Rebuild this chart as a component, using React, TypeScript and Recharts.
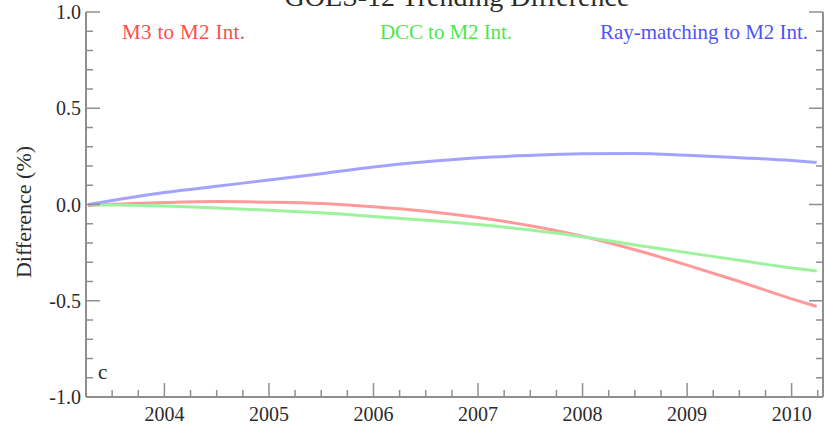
import { LineChart, Line, XAxis, YAxis } from 'recharts'

const YEARS = [2003.27, 2004, 2004.5, 2005, 2005.5, 2006, 2006.5, 2007, 2007.5, 2008, 2008.5, 2009, 2009.5, 2010, 2010.24]
const M3_TO_M2 = [-0.005, 0.01, 0.015, 0.012, 0.005, -0.012, -0.035, -0.068, -0.11, -0.165, -0.235, -0.315, -0.4, -0.49, -0.53]
const DCC_TO_M2 = [0.0, -0.008, -0.018, -0.03, -0.043, -0.062, -0.082, -0.104, -0.133, -0.168, -0.21, -0.25, -0.29, -0.33, -0.345]
const RAY_TO_M2 = [0.0, 0.062, 0.095, 0.127, 0.16, 0.195, 0.222, 0.243, 0.255, 0.263, 0.265, 0.256, 0.243, 0.228, 0.218]

const X_DOMAIN = [2003.25, 2010.3]
const X_MAJOR = [2004, 2005, 2006, 2007, 2008, 2009, 2010]
const Y_MAJOR = [-1.0, -0.5, 0.0, 0.5, 1.0]

// quarter-year and 0.1 minor ticks
const X_TICKS = Array.from({ length: 29 }, (_, i) => (2003.25 * 4 + i) / 4)
const Y_TICKS = Array.from({ length: 21 }, (_, i) => (i - 10) / 10)

const data = YEARS.map((year, i) => ({
  year,
  m3: M3_TO_M2[i],
  dcc: DCC_TO_M2[i],
  ray: RAY_TO_M2[i]
}))

const W = 825
const H = 429
const AXIS = '#8f8f8f'
const TEXT = '#2b2b2b'
const FONT = '"Liberation Serif", "Times New Roman", serif'
const MAJOR_LEN = 14
const MINOR_LEN = 7

if (typeof document !== 'undefined') document.body.style.margin = '0'

const isXMajor = (v: number) => X_MAJOR.includes(v)
const isYMajor = (v: number) => Y_MAJOR.some((m) => Math.abs(m - v) < 1e-9)

function BottomTick({ x, y, payload }: any) {
  const major = isXMajor(payload.value)
  return (
    <g>
      <line x1={x} x2={x} y1={y} y2={y - (major ? MAJOR_LEN : MINOR_LEN)} stroke={AXIS} strokeWidth={1.5} />
      {major && (
        <text x={x} y={y + 24} textAnchor="middle" fontSize={20} fill={TEXT} fontFamily={FONT}>
          {payload.value}
        </text>
      )}
    </g>
  )
}

function TopTick({ x, y, payload }: any) {
  const major = isXMajor(payload.value)
  return <line x1={x} x2={x} y1={y} y2={y + (major ? MAJOR_LEN : MINOR_LEN)} stroke={AXIS} strokeWidth={1.5} />
}

function LeftTick({ x, y, payload }: any) {
  const major = isYMajor(payload.value)
  return (
    <g>
      <line x1={x} x2={x + (major ? MAJOR_LEN : MINOR_LEN)} y1={y} y2={y} stroke={AXIS} strokeWidth={1.5} />
      {major && (
        <text x={x - 5} y={y + 7} textAnchor="end" fontSize={20} fill={TEXT} fontFamily={FONT}>
          {payload.value.toFixed(1)}
        </text>
      )}
    </g>
  )
}

function RightTick({ x, y, payload }: any) {
  const major = isYMajor(payload.value)
  return <line x1={x} x2={x - (major ? MAJOR_LEN : MINOR_LEN)} y1={y} y2={y} stroke={AXIS} strokeWidth={1.5} />
}

export default function App() {
  return (
    <div style={{ position: 'relative', width: W, height: H, background: '#fff', overflow: 'hidden' }}>
      <LineChart width={W} height={H} data={data} margin={{ top: 12, right: 1, bottom: 0, left: 0 }}>
        <XAxis
          dataKey="year"
          type="number"
          domain={X_DOMAIN}
          ticks={X_TICKS}
          interval={0}
          allowDataOverflow
          height={32}
          tickSize={0}
          tickMargin={0}
          tick={BottomTick}
          axisLine={{ stroke: AXIS, strokeWidth: 2 }}
        />
        <XAxis
          xAxisId="top"
          orientation="top"
          dataKey="year"
          type="number"
          domain={X_DOMAIN}
          ticks={X_TICKS}
          interval={0}
          allowDataOverflow
          height={0}
          tickSize={0}
          tickMargin={0}
          tick={TopTick}
          axisLine={{ stroke: AXIS, strokeWidth: 2 }}
        />
        <YAxis
          type="number"
          domain={[-1, 1]}
          ticks={Y_TICKS}
          interval={0}
          allowDataOverflow
          width={86}
          tickSize={0}
          tickMargin={0}
          tick={LeftTick}
          axisLine={{ stroke: AXIS, strokeWidth: 2 }}
        />
        <YAxis
          yAxisId="right"
          orientation="right"
          type="number"
          domain={[-1, 1]}
          ticks={Y_TICKS}
          interval={0}
          allowDataOverflow
          width={1}
          tickSize={0}
          tickMargin={0}
          tick={RightTick}
          axisLine={{ stroke: AXIS, strokeWidth: 2 }}
        />
        <Line dataKey="m3" type="monotone" stroke="#ff9a9a" strokeWidth={3} dot={false} isAnimationActive={false} />
        <Line dataKey="dcc" type="monotone" stroke="#9df29d" strokeWidth={3} dot={false} isAnimationActive={false} />
        <Line dataKey="ray" type="monotone" stroke="#a3a3ff" strokeWidth={3} dot={false} isAnimationActive={false} />
      </LineChart>
      <svg width={W} height={H} style={{ position: 'absolute', left: 0, top: 0, pointerEvents: 'none' }}>
        {/* title is cropped at the top edge in the source image */}
        <text x={457} y={6} textAnchor="middle" fontSize={28} fill={TEXT} fontFamily={FONT}>
          GOES-12 Trending Difference
        </text>
        <text x={122} y={39} fontSize={21} fill="#ff4d4d" fontFamily={FONT} textLength={123}>M3 to M2 Int.</text>
        <text x={380} y={39} fontSize={21} fill="#4de84d" fontFamily={FONT} textLength={132}>DCC to M2 Int.</text>
        <text x={600} y={39} fontSize={21} fill="#5252f5" fontFamily={FONT} textLength={208}>Ray-matching to M2 Int.</text>
        <text x={98} y={379} fontSize={21} fill={TEXT} fontFamily={FONT}>c</text>
        <text
          x={0}
          y={0}
          transform="translate(31 212) rotate(-90)"
          textAnchor="middle"
          fontSize={22}
          fill={TEXT}
          fontFamily={FONT}
        >
          Difference (%)
        </text>
      </svg>
    </div>
  )
}
